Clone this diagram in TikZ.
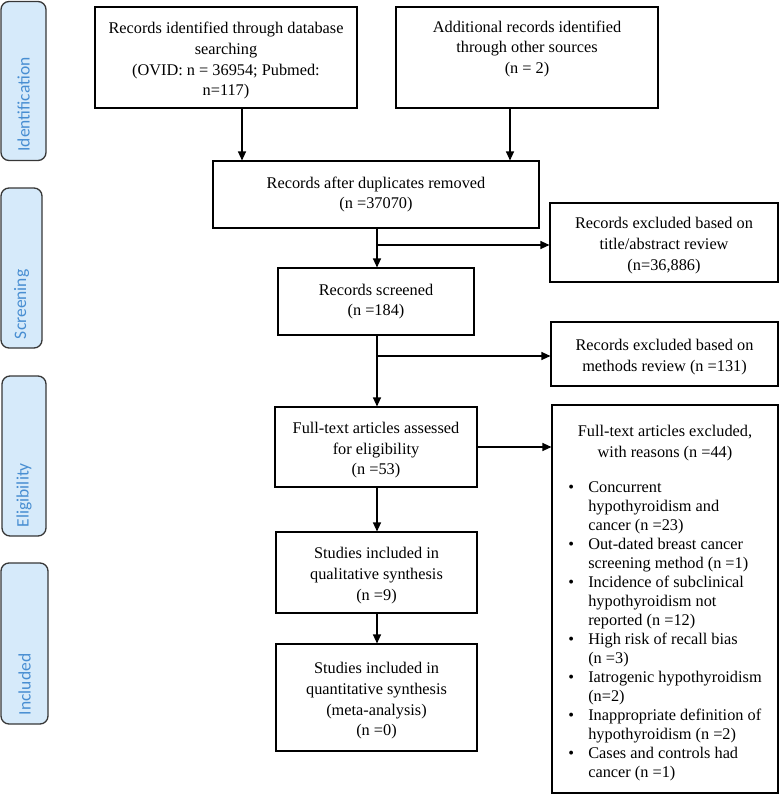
\documentclass[tikz,border=0pt]{standalone}
\usepackage{fontspec}
\setmainfont{Liberation Serif}
\newfontfamily\sidefont{Carlito}
\usetikzlibrary{arrows.meta}
\definecolor{sidefill}{RGB}{214,234,250}
\definecolor{sidetext}{RGB}{72,142,210}
\definecolor{sideline}{RGB}{55,55,55}
\newcommand{\flst}{\rule{0pt}{17.8pt}}
\begin{document}
\begin{tikzpicture}[x=1pt,y=-1pt,
  box/.style={draw, line width=1.1pt, align=center, font=\fontsize{16.3}{20.7}\selectfont, inner sep=2pt},
  side/.style={draw=sideline, fill=sidefill, line width=1.3pt, rounded corners=8pt, rotate=90, align=left, inner xsep=9pt, inner ysep=0pt, text=sidetext, font=\sidefont\fontsize{17.5}{20}\selectfont},
  arr/.style={line width=1.1pt, -{Triangle[length=9pt,width=8pt]}}
]
\useasboundingbox (0,0) rectangle (779,795);

% side labels
\node[side, minimum width=159pt, minimum height=45pt, text width=141pt] (s1) at (23.5,81) {Identification};
\node[side, minimum width=160pt, minimum height=41pt, text width=142pt] (s2) at (21.5,268) {Screening};
\node[side, minimum width=160pt, minimum height=44pt, text width=142pt] (s3) at (24,456) {Eligibility};
\node[side, minimum width=161pt, minimum height=47pt, text width=143pt] (s4) at (24.5,643.5) {Included};

% main boxes
\node[box, minimum width=262pt, minimum height=101pt] (A) at (226,57.5)
  {\flst Records identified through database\\searching\\(OVID: n = 36954; Pubmed:\\n=117)};
\node[box, minimum width=262pt, minimum height=101pt] (B) at (527,57.5)
  {\flst Additional records identified\\through other sources\\(n = 2)\\\strut};
\node[box, minimum width=326pt, minimum height=67pt] (C) at (376,194.5)
  {Records after duplicates removed\\(n =37070)};
\node[box, minimum width=196pt, minimum height=67pt] (D) at (376,301.5)
  {Records screened\\(n =184)};
\node[box, minimum width=202pt, minimum height=80pt] (E) at (376,447)
  {\flst Full-text articles assessed\\for eligibility\\(n =53)};
\node[box, minimum width=201pt, minimum height=81pt] (F) at (376.5,572.5)
  {\flst Studies included in\\qualitative synthesis\\(n =9)};
\node[box, minimum width=201pt, minimum height=107pt] (G) at (376.5,697.5)
  {\flst Studies included in\\quantitative synthesis\\(meta-analysis)\\(n =0)};

% right boxes
\node[box, minimum width=228pt, minimum height=79pt] (R1) at (664,242.5)
  {\flst Records excluded based on\\title/abstract review\\(n=36,886)};
\node[box, minimum width=227pt, minimum height=64pt] (R2) at (664.5,354)
  {\flst Records excluded based on\\methods review (n =131)};
\node[box, minimum width=226pt, minimum height=388pt] (R3) at (665,599)
  {\rule{0pt}{21.6pt}Full-text articles excluded,\\with reasons (n =44)\\[14pt]
  {\fontsize{16.3}{19.0}\selectfont\begin{tabular}[t]{@{}p{20pt}@{}l@{}}
  \textbullet & Concurrent\\
  & hypothyroidism and\\
  & cancer (n =23)\\
  \textbullet & Out-dated breast cancer\\
  & screening method (n =1)\\
  \textbullet & Incidence of subclinical\\
  & hypothyroidism not\\
  & reported (n =12)\\
  \textbullet & High risk of recall bias\\
  & (n =3)\\
  \textbullet & Iatrogenic hypothyroidism\\
  & (n=2)\\
  \textbullet & Inappropriate definition of\\
  & hypothyroidism (n =2)\\
  \textbullet & Cases and controls had\\
  & cancer (n =1)
  \end{tabular}}};

% connectors
\coordinate (ax) at (242,0);
\coordinate (bx) at (510,0);
\coordinate (mx) at (377,0);
\coordinate (b1) at (377,245);
\coordinate (b2) at (377,356);
\draw[arr] (A.south -| ax) -- (C.north -| ax);
\draw[arr] (B.south -| bx) -- (C.north -| bx);
\draw[arr] (C.south -| mx) -- (D.north -| mx);
\draw[arr] (b1) -- (b1 -| R1.west);
\draw[arr] (D.south -| mx) -- (E.north -| mx);
\draw[arr] (b2) -- (b2 -| R2.west);
\draw[arr] (E.east) -- (E.east -| R3.west);
\draw[arr] (E.south -| mx) -- (F.north -| mx);
\draw[arr] (F.south -| mx) -- (G.north -| mx);
\end{tikzpicture}
\end{document}
